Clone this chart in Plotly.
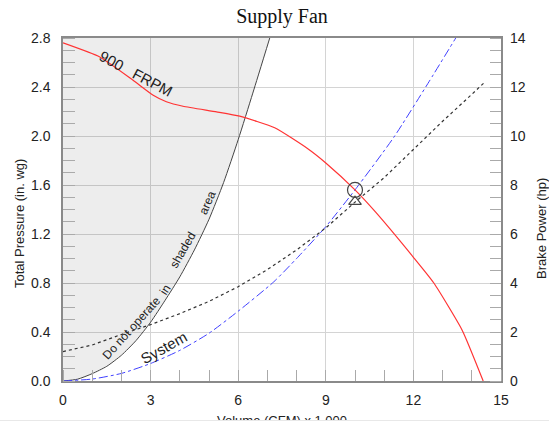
import plotly.graph_objects as go

# ---- data ----
fan_x = [0, 1.26, 2.4, 3.09, 3.54, 4.11, 5.26, 6.05, 7.25, 8.36, 9.0, 10.0, 10.7, 12.0, 12.7, 13.67, 14.39]
fan_p = [2.76, 2.645, 2.455, 2.333, 2.28, 2.243, 2.197, 2.162, 2.067, 1.90, 1.78, 1.56, 1.38, 1.01, 0.80, 0.415, 0.0]

sys_x = [0, 1, 2, 3, 4, 5, 6, 7.22, 8, 9, 10, 11.33, 12.5, 13.45]
sys_p = [0.0, 0.016, 0.062, 0.143, 0.25, 0.39, 0.57, 0.81, 1.0, 1.26, 1.56, 1.99, 2.43, 2.8]

bhp_x = [0, 1, 2, 3, 4, 5, 6, 7, 8, 9, 10, 11, 12, 13, 14, 14.4]
bhp_hp = [1.2, 1.47, 1.9, 2.3, 2.75, 3.25, 3.85, 4.55, 5.35, 6.25, 7.3, 8.3, 9.45, 10.6, 11.7, 12.15]

lim_x = [0, 0.5, 1, 1.5, 2, 2.5, 3, 3.5, 4, 4.5, 5, 5.5, 6, 6.5, 7.08]
lim_p = [0.0, 0.015, 0.06, 0.12, 0.21, 0.33, 0.48, 0.66, 0.85, 1.07, 1.32, 1.62, 1.97, 2.35, 2.8]

op_x = [10.0]
op_p = [1.56]
op_hp = [7.32]

x_ticks = [0, 3, 6, 9, 12, 15]
p_ticks = [0.0, 0.4, 0.8, 1.2, 1.6, 2.0, 2.4, 2.8]
hp_ticks = [0, 2, 4, 6, 8, 10, 12, 14]

fig = go.Figure()

# shaded "do not operate" region
fig.add_trace(go.Scatter(
    x=[0] + lim_x + [0], y=[0] + lim_p + [2.8],
    fill="toself", fillcolor="rgba(0,0,0,0.07)",
    line=dict(width=0), mode="lines", hoverinfo="skip", showlegend=False))
fig.add_trace(go.Scatter(x=lim_x, y=lim_p, mode="lines",
                         line=dict(color="#444444", width=1, shape="spline", smoothing=0.6),
                         showlegend=False))

fig.add_trace(go.Scatter(x=sys_x, y=sys_p, mode="lines",
                         line=dict(color="#4040ff", width=1, dash="dashdot", shape="spline",
                                   smoothing=0.6), showlegend=False))
fig.add_trace(go.Scatter(x=bhp_x, y=bhp_hp, mode="lines", yaxis="y2",
                         line=dict(color="#333333", width=1.2, dash="dot"), showlegend=False))
fig.add_trace(go.Scatter(x=fan_x, y=fan_p, mode="lines",
                         line=dict(color="#ff3333", width=1.2, shape="spline", smoothing=0.5),
                         showlegend=False))
fig.add_trace(go.Scatter(x=op_x, y=op_p, mode="markers",
                         marker=dict(symbol="circle-open", size=15, color="#444444",
                                     line=dict(width=1.2)), showlegend=False))
fig.add_trace(go.Scatter(x=op_x, y=op_hp, mode="markers", yaxis="y2",
                         marker=dict(symbol="triangle-up-open", size=11, color="#444444",
                                     line=dict(width=1.2)), showlegend=False))

tickfont = dict(family="Arial, Liberation Sans, sans-serif", size=14, color="#222222")
lblfont = dict(family="Arial, Liberation Sans, sans-serif", size=13, color="#222222")

anns = [
    dict(x=2.5, y=2.51, text="900\u00a0\u00a0\u00a0FRPM", textangle=28, font=dict(size=15)),
    dict(x=2.35, y=0.43, text="Do not operate", textangle=-48, font=dict(size=12)),
    dict(x=3.5, y=0.74, text="in", textangle=-57, font=dict(size=12)),
    dict(x=4.1, y=1.07, text="shaded", textangle=-60, font=dict(size=12)),
    dict(x=4.95, y=1.45, text="area", textangle=-67, font=dict(size=12)),
    dict(x=3.46, y=0.27, text="System", textangle=-29, font=dict(size=15)),
]
annotations = []
for a in anns:
    f = dict(family="Arial, Liberation Sans, sans-serif", color="#222222")
    f.update(a.pop("font"))
    annotations.append(dict(xref="x", yref="y", showarrow=False, font=f, **a))

annotations += [
    dict(xref="paper", yref="paper", x=-0.101, y=0.46, text="Total Pressure (in. wg)",
         textangle=-90, showarrow=False, font=lblfont, xanchor="center", yanchor="middle"),
    dict(xref="paper", yref="paper", x=1.091, y=0.446, text="Brake Power (hp)",
         textangle=-90, showarrow=False, font=lblfont, xanchor="center", yanchor="middle"),
    dict(xref="paper", yref="paper", x=0.5, y=-0.0864, text="Volume (CFM) x 1,000",
         showarrow=False, font=lblfont, xanchor="center", yanchor="top"),
    dict(xref="paper", yref="paper", x=0.4826, y=-0.1135, text=" ", width=620, height=30,
         bgcolor="#ffffff", bordercolor="#e8e8e8", borderwidth=1, borderpad=0,
         showarrow=False, xanchor="center", yanchor="top"),
]

fig.update_layout(
    width=549, height=424,
    margin=dict(l=63, r=48, t=38, b=43, autoexpand=False),
    paper_bgcolor="white", plot_bgcolor="white",
    title=dict(text="Supply Fan", x=0.5, xref="paper", y=0.962, yanchor="middle",
               font=dict(family="Liberation Serif, Times New Roman, serif", size=20, color="#111111")),
    xaxis=dict(range=[0, 15], tickvals=x_ticks, ticktext=[str(v) for v in x_ticks],
               automargin=False,
               showgrid=True, gridcolor="#d4d4d4", gridwidth=1, zeroline=False,
               showline=True, linecolor="#8a8a8a", linewidth=1.5, mirror=True,
               ticks="", tickfont=tickfont, ticklabelstandoff=5,
               minor=dict(dtick=1, tick0=0, ticks="inside", ticklen=11, tickcolor="#aaaaaa",
                          showgrid=False)),
    yaxis=dict(range=[0, 2.8], tickvals=p_ticks, ticktext=[f"{v:.1f}" for v in p_ticks],
               automargin=False,
               showgrid=True, gridcolor="#d4d4d4", gridwidth=1, zeroline=False,
               showline=True, linecolor="#8a8a8a", linewidth=1.5, mirror=True,
               ticks="", tickfont=tickfont, ticklabelstandoff=8,
               minor=dict(dtick=0.1, tick0=0, ticks="inside", ticklen=12, tickcolor="#aaaaaa",
                          showgrid=False)),
    yaxis2=dict(range=[0, 14], tickvals=hp_ticks, ticktext=[str(v) for v in hp_ticks],
                automargin=False,
                overlaying="y", side="right", showgrid=False, zeroline=False,
                ticks="", tickfont=tickfont, ticklabelstandoff=8,
                minor=dict(dtick=0.5, tick0=0, ticks="inside", ticklen=11, tickcolor="#aaaaaa",
                           showgrid=False)),
    annotations=annotations,
)

# remove the browser's default 8px body margin so the figure sits at the page origin
fig.write_html("out.html",
               config={"displayModeBar": False},
               post_script="document.body.style.margin='0';"
                           "document.documentElement.style.overflow='hidden';")
